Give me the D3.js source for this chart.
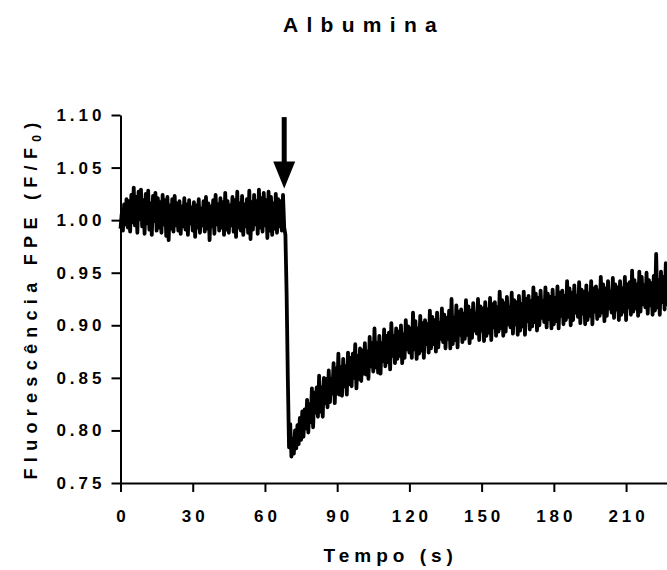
<html><head>
  <meta charset="utf-8">
  <script src="https://d3js.org/d3.v7.min.js"></script>
  <style>
  body { margin: 0; background: #fff; }
  text { font-family: "Liberation Sans", Arial, sans-serif; font-weight: bold; fill: #000; }
  .axis path, .axis line { stroke: #000; stroke-width: 2px; }
  .axis text { font-size: 17px; letter-spacing: 4px; }
  #trace { fill: none; stroke: #000; stroke-width: 3.8px; stroke-linejoin: round; }
  </style>
</head>
<body>
  <svg height="570" width="667" id="chart"></svg>

  <script>

  // --- data ---
  const title = "Albumina";
  const xLabel = "Tempo (s)";
  const yLabel = "Fluorescência FPE (F/F";
  const yLabelSub = "0";

  const xTicks = [0, 30, 60, 90, 120, 150, 180, 210];
  const yTicks = [0.75, 0.80, 0.85, 0.90, 0.95, 1.00, 1.05, 1.10];

  const dt = 0.5;           // seconds between samples
  const baselineStart = 0;  // s
  const additionStart = 68.5;

  // F/F0 before the addition (0 .. 68 s)
  const baseline = [
    0.992, 1.006, 0.990, 1.015, 0.996, 1.020, 0.993, 1.018, 0.989, 1.024,
    0.998, 1.031, 0.995, 1.022, 0.988, 1.027, 1.001, 1.029, 0.994, 1.019,
    0.987, 1.025, 0.997, 1.028, 0.991, 1.016, 0.986, 1.023, 0.999, 1.026,
    0.990, 1.021, 0.993, 1.017, 0.988, 1.024, 0.996, 1.019, 0.985, 1.022,
    0.981, 1.014, 0.992, 1.020, 0.989, 1.023, 0.995, 1.016, 0.990, 1.018,
    0.987, 1.013, 0.994, 1.021, 0.991, 1.015, 0.986, 1.019, 0.997, 1.012,
    0.990, 1.017, 0.984, 1.014, 0.993, 1.020, 0.988, 1.011, 0.995, 1.018,
    0.989, 1.022, 0.992, 1.016, 0.981, 1.013, 0.994, 1.019, 0.987, 1.024,
    0.996, 1.015, 0.990, 1.021, 0.993, 1.017, 0.986, 1.026, 0.991, 1.018,
    0.988, 1.014, 0.995, 1.022, 0.989, 1.019, 0.984, 1.027, 0.993, 1.016,
    0.990, 1.023, 0.986, 1.015, 0.994, 1.020, 0.988, 1.028, 0.982, 1.017,
    0.991, 1.024, 0.996, 1.018, 0.987, 1.029, 0.993, 1.021, 0.989, 1.026,
    0.995, 1.019, 0.983, 1.027, 0.990, 1.022, 0.986, 1.016, 0.992, 1.025,
    0.988, 1.020, 0.994, 1.018, 0.990, 1.024, 0.993
  ];

  // F/F0 from the addition on (68.5 .. 227 s)
  const afterAddition = [
    0.986, 0.930, 0.850, 0.784, 0.806, 0.775, 0.792, 0.778, 0.800, 0.783,
    0.805, 0.787, 0.812, 0.791, 0.818,
    0.794, 0.820, 0.802, 0.829, 0.798, 0.825, 0.808, 0.840, 0.803, 0.836,
    0.817, 0.841, 0.813, 0.852, 0.818, 0.841, 0.813, 0.850, 0.826, 0.849,
    0.822, 0.857, 0.827, 0.849, 0.835, 0.864, 0.826, 0.859, 0.835, 0.873,
    0.834, 0.860, 0.833, 0.868, 0.842, 0.861, 0.834, 0.874, 0.844, 0.869,
    0.842, 0.873, 0.850, 0.882, 0.840, 0.871, 0.849, 0.878, 0.847, 0.876,
    0.854, 0.883, 0.853, 0.875, 0.849, 0.889, 0.861, 0.883, 0.856, 0.897,
    0.860, 0.883, 0.855, 0.890, 0.854, 0.883, 0.866, 0.896, 0.861, 0.890,
    0.865, 0.893, 0.858, 0.902, 0.871, 0.890, 0.864, 0.897, 0.868, 0.894,
    0.871, 0.900, 0.864, 0.891, 0.869, 0.905, 0.877, 0.899, 0.874, 0.897,
    0.869, 0.912, 0.877, 0.904, 0.868, 0.897, 0.873, 0.909, 0.876, 0.902,
    0.869, 0.905, 0.882, 0.901, 0.874, 0.914, 0.878, 0.908, 0.882, 0.905,
    0.875, 0.912, 0.879, 0.902, 0.887, 0.916, 0.884, 0.910, 0.878, 0.907,
    0.887, 0.914, 0.878, 0.925, 0.882, 0.907, 0.886, 0.919, 0.879, 0.913,
    0.891, 0.915, 0.884, 0.911, 0.887, 0.924, 0.891, 0.918, 0.883, 0.914,
    0.888, 0.921, 0.895, 0.911, 0.892, 0.925, 0.886, 0.918, 0.895, 0.916,
    0.885, 0.922, 0.890, 0.915, 0.893, 0.926, 0.886, 0.920, 0.898, 0.922,
    0.890, 0.917, 0.894, 0.932, 0.897, 0.924, 0.890, 0.921, 0.894, 0.927,
    0.901, 0.917, 0.898, 0.931, 0.892, 0.924, 0.901, 0.922, 0.891, 0.928,
    0.895, 0.920, 0.899, 0.932, 0.891, 0.925, 0.904, 0.928, 0.896, 0.923,
    0.899, 0.936, 0.903, 0.930, 0.895, 0.926, 0.900, 0.933, 0.907, 0.923,
    0.903, 0.936, 0.898, 0.930, 0.906, 0.927, 0.897, 0.934, 0.901, 0.926,
    0.904, 0.937, 0.897, 0.931, 0.909, 0.933, 0.901, 0.928, 0.905, 0.942,
    0.908, 0.935, 0.900, 0.931, 0.905, 0.938, 0.912, 0.928, 0.908, 0.941,
    0.902, 0.934, 0.911, 0.932, 0.901, 0.938, 0.905, 0.930, 0.909, 0.942,
    0.901, 0.935, 0.913, 0.937, 0.906, 0.933, 0.909, 0.946, 0.912, 0.939,
    0.904, 0.935, 0.909, 0.942, 0.916, 0.932, 0.912, 0.945, 0.907, 0.939,
    0.915, 0.936, 0.905, 0.942, 0.910, 0.935, 0.913, 0.946, 0.905, 0.939,
    0.917, 0.941, 0.910, 0.952, 0.913, 0.943, 0.916, 0.939, 0.909, 0.951,
    0.913, 0.946, 0.920, 0.938, 0.917, 0.950, 0.911, 0.943, 0.919, 0.940,
    0.910, 0.947, 0.914, 0.968, 0.917, 0.943, 0.910, 0.951, 0.922, 0.946,
    0.915, 0.959, 0.918
  ];

  // arrow marking the addition
  const arrowTime = 68;
  const arrowTip = 1.030;
  const arrowTop = 1.098;

  // --- layout ---
  let svg = d3.select("#chart");
  let margin = { top: 115, right: 0, bottom: 87, left: 120.5 };
  let width = +svg.attr("width");
  let height = +svg.attr("height");

  const xScale = d3.scaleLinear().domain([0, 227]).range([margin.left, width - margin.right]);
  const yScale = d3.scaleLinear().domain([0.75, 1.10]).range([height - margin.bottom, margin.top]);

  let trace = baseline.map((v, i) => ({ t: baselineStart + i * dt, v: v }))
    .concat(afterAddition.map((v, i) => ({ t: additionStart + i * dt, v: v })));

  // axes
  let bottomAxis = d3.axisBottom(xScale).tickValues(xTicks).tickSize(9).tickSizeOuter(0).tickPadding(18);
  svg.append("g")
    .attr("class", "axis")
    .attr("transform", "translate(0," + yScale(0.75) + ")")
    .call(bottomAxis)
    .selectAll("text")
    .attr("dx", "2px");

  let leftAxis = d3.axisLeft(yScale).tickValues(yTicks).tickSize(9).tickSizeOuter(0)
    .tickPadding(10).tickFormat(d3.format(".2f"));
  svg.append("g")
    .attr("class", "axis")
    .attr("transform", "translate(" + xScale(0) + ",0)")
    .call(leftAxis)
    .selectAll("text")
    .attr("dx", "4px");

  // trace
  let line = d3.line()
    .x(d => xScale(d.t))
    .y(d => yScale(d.v));
  svg.append("path")
    .datum(trace)
    .attr("id", "trace")
    .attr("d", line);

  // arrow
  let ax = xScale(arrowTime);
  let tipY = yScale(arrowTip);
  let topY = yScale(arrowTop);
  svg.append("rect")
    .attr("x", ax - 2.5).attr("y", topY)
    .attr("width", 5).attr("height", tipY - topY - 20)
    .attr("fill", "#000");
  svg.append("path")
    .attr("d", "M" + (ax - 11) + "," + (tipY - 27) + " L" + (ax + 11) + "," + (tipY - 27) + " L" + ax + "," + tipY + " Z")
    .attr("fill", "#000");

  // titles
  svg.append("text")
    .attr("x", 364).attr("y", 32)
    .attr("text-anchor", "middle")
    .style("font-size", "21px")
    .style("letter-spacing", "8.3px")
    .text(title);

  svg.append("text")
    .attr("x", (xScale.range()[0] + xScale.range()[1]) / 2 - 3)
    .attr("y", 562)
    .attr("text-anchor", "middle")
    .style("font-size", "19px")
    .style("letter-spacing", "5px")
    .text(xLabel);

  let yl = svg.append("text")
    .attr("transform", "translate(37," + ((yScale.range()[0] + yScale.range()[1]) / 2 - 1) + ") rotate(-90)")
    .attr("text-anchor", "middle")
    .style("font-size", "18px")
    .style("letter-spacing", "6.3px");
  yl.append("tspan").text(yLabel);
  yl.append("tspan").attr("dy", 4).style("font-size", "12px").text(yLabelSub);
  yl.append("tspan").attr("dy", -4).text(")");

  </script>
</body>
</html>
